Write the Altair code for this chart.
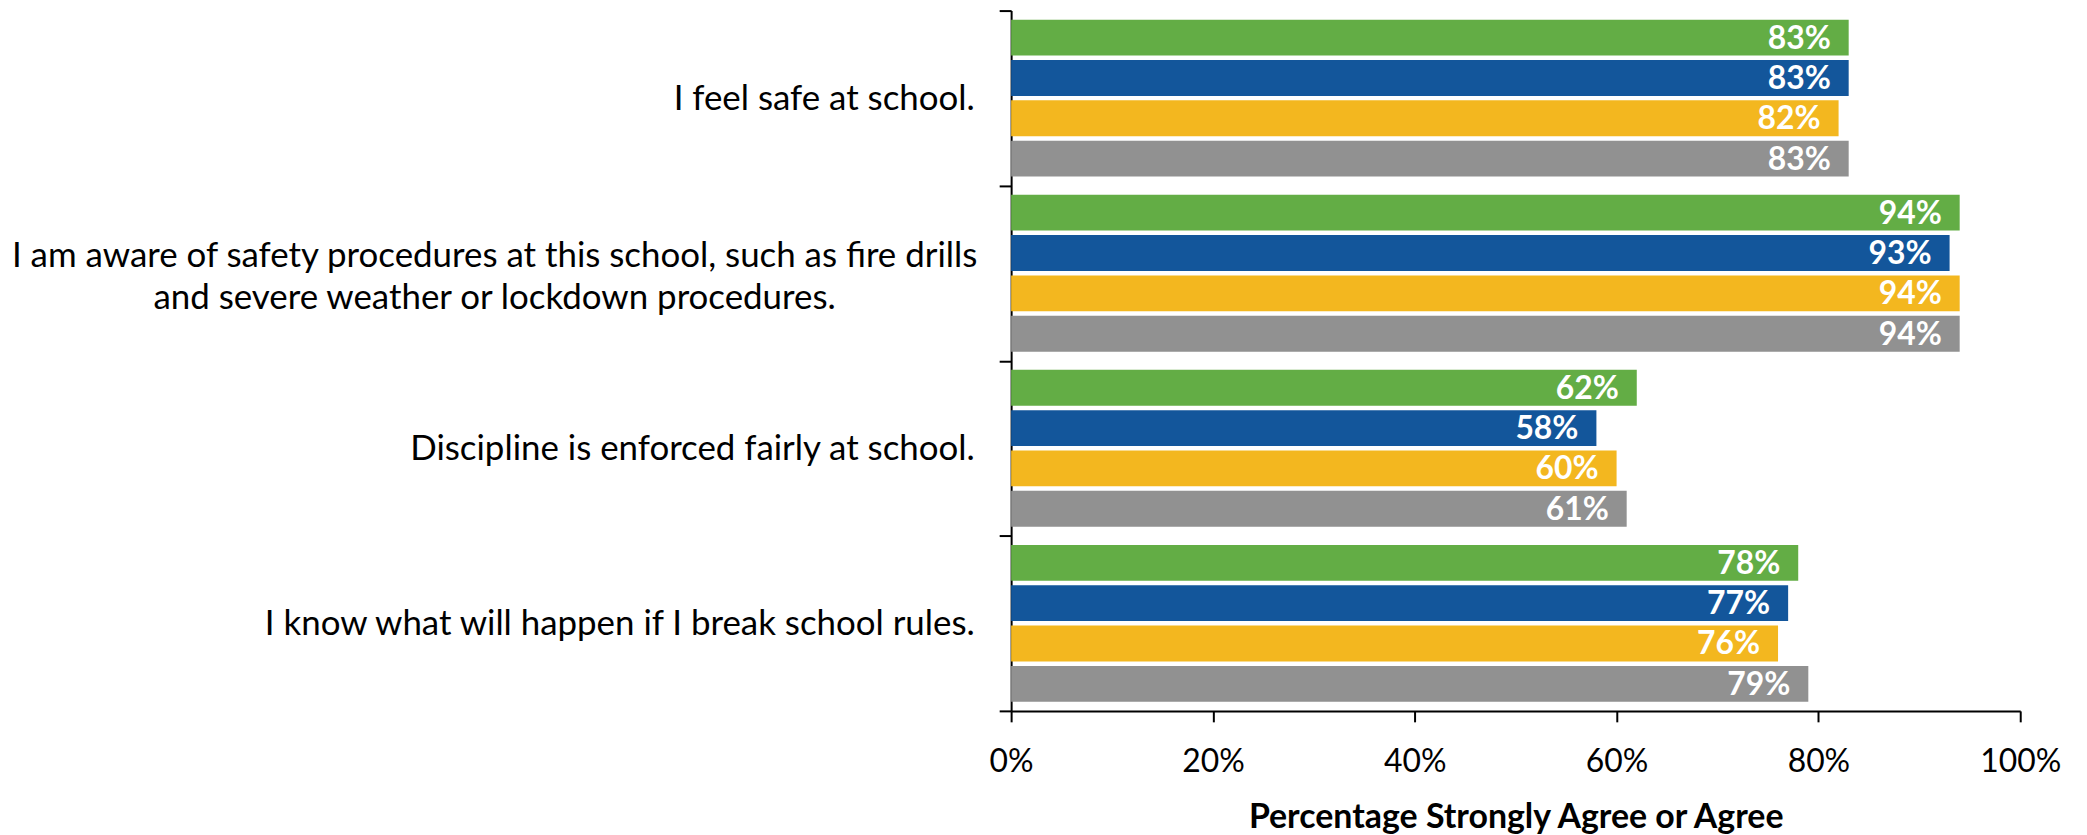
import json
import altair as alt
import pandas as pd

questions = [
    "I feel safe at school.",
    "I am aware of safety procedures at this school, such as fire drills and severe weather or lockdown procedures.",
    "Discipline is enforced fairly at school.",
    "I know what will happen if I break school rules.",
]
long_lines = [
    "I am aware of safety procedures at this school, such as fire drills",
    "and severe weather or lockdown procedures.",
]
series = ["Series 1", "Series 2", "Series 3", "Series 4"]
colors = ["#63AD45", "#13569B", "#F3B71F", "#919191"]
values = {
    "Series 1": [83, 94, 62, 78],
    "Series 2": [83, 93, 58, 77],
    "Series 3": [82, 94, 60, 76],
    "Series 4": [83, 94, 61, 79],
}

rows = []
for s in series:
    for q, v in zip(questions, values[s]):
        rows.append({"question": q, "series": s, "value": v / 100.0, "label": f"{v}%"})
df = pd.DataFrame(rows)

FONT = "Lato"
q_long = json.dumps(questions[1])
is_long = f"datum.value === {q_long}"
label_expr = f"{is_long} ? {json.dumps(long_lines)} : datum.label"

y_enc = alt.Y(
    "question:N",
    sort=questions,
    scale=alt.Scale(paddingInner=0, paddingOuter=0),
    axis=alt.Axis(
        title=None,
        tickBand="extent",
        tickSize=12,
        tickWidth=2,
        tickColor="black",
        domainColor="black",
        domainWidth=2,
        labelFont=FONT,
        labelFontSize=35,
        labelColor="black",
        labelLimit=2000,
        labelLineHeight=42,
        labelExpr=label_expr,
        labelAlign={"condition": {"test": is_long, "value": "center"}, "value": "right"},
        labelPadding={"condition": {"test": is_long, "value": 507}, "value": 25},
        labelOffset={"condition": {"test": is_long, "value": -18}, "value": 0},
    ),
)
yoff = alt.YOffset("series:N", sort=series, scale=alt.Scale(paddingInner=0.1, paddingOuter=0.22))
x_enc = alt.X(
    "value:Q",
    scale=alt.Scale(domain=[0, 1], nice=False, zero=True),
    axis=alt.Axis(
        title="Percentage Strongly Agree or Agree",
        values=[0, 0.2, 0.4, 0.6, 0.8, 1.0],
        format=".0%",
        grid=False,
        tickSize=11,
        tickWidth=2,
        tickColor="black",
        domainColor="black",
        domainWidth=2,
        labelFont=FONT,
        labelFontSize=32,
        labelColor="black",
        labelBaseline="alphabetic",
        labelPadding=50,
        labelFlush=False,
        labelOverlap=False,
        titleFont=FONT,
        titleFontSize=34,
        titleFontWeight="bold",
        titleColor="black",
        titleBaseline="alphabetic",
        titleY=117,
    ),
)

base = alt.Chart(df).encode(y=y_enc, yOffset=yoff, x=x_enc)

bars = base.mark_bar(size=36).encode(
    color=alt.Color("series:N", sort=series, scale=alt.Scale(domain=series, range=colors), legend=None)
)
texts = base.mark_text(
    align="right", baseline="middle", dx=-18, dy=1, color="white", font=FONT, fontSize=32, fontWeight="bold"
).encode(text="label:N")

chart = (
    alt.layer(bars, texts)
    .properties(
        width=1013,
        height=703,
        autosize=alt.AutoSizeParams(type="none"),
        padding={"left": 1007, "top": 1, "right": 59, "bottom": 123},
        background="white",
    )
    .configure_view(stroke=None)
)

chart.save("out.html", embed_options={"renderer": "svg", "actions": False})
